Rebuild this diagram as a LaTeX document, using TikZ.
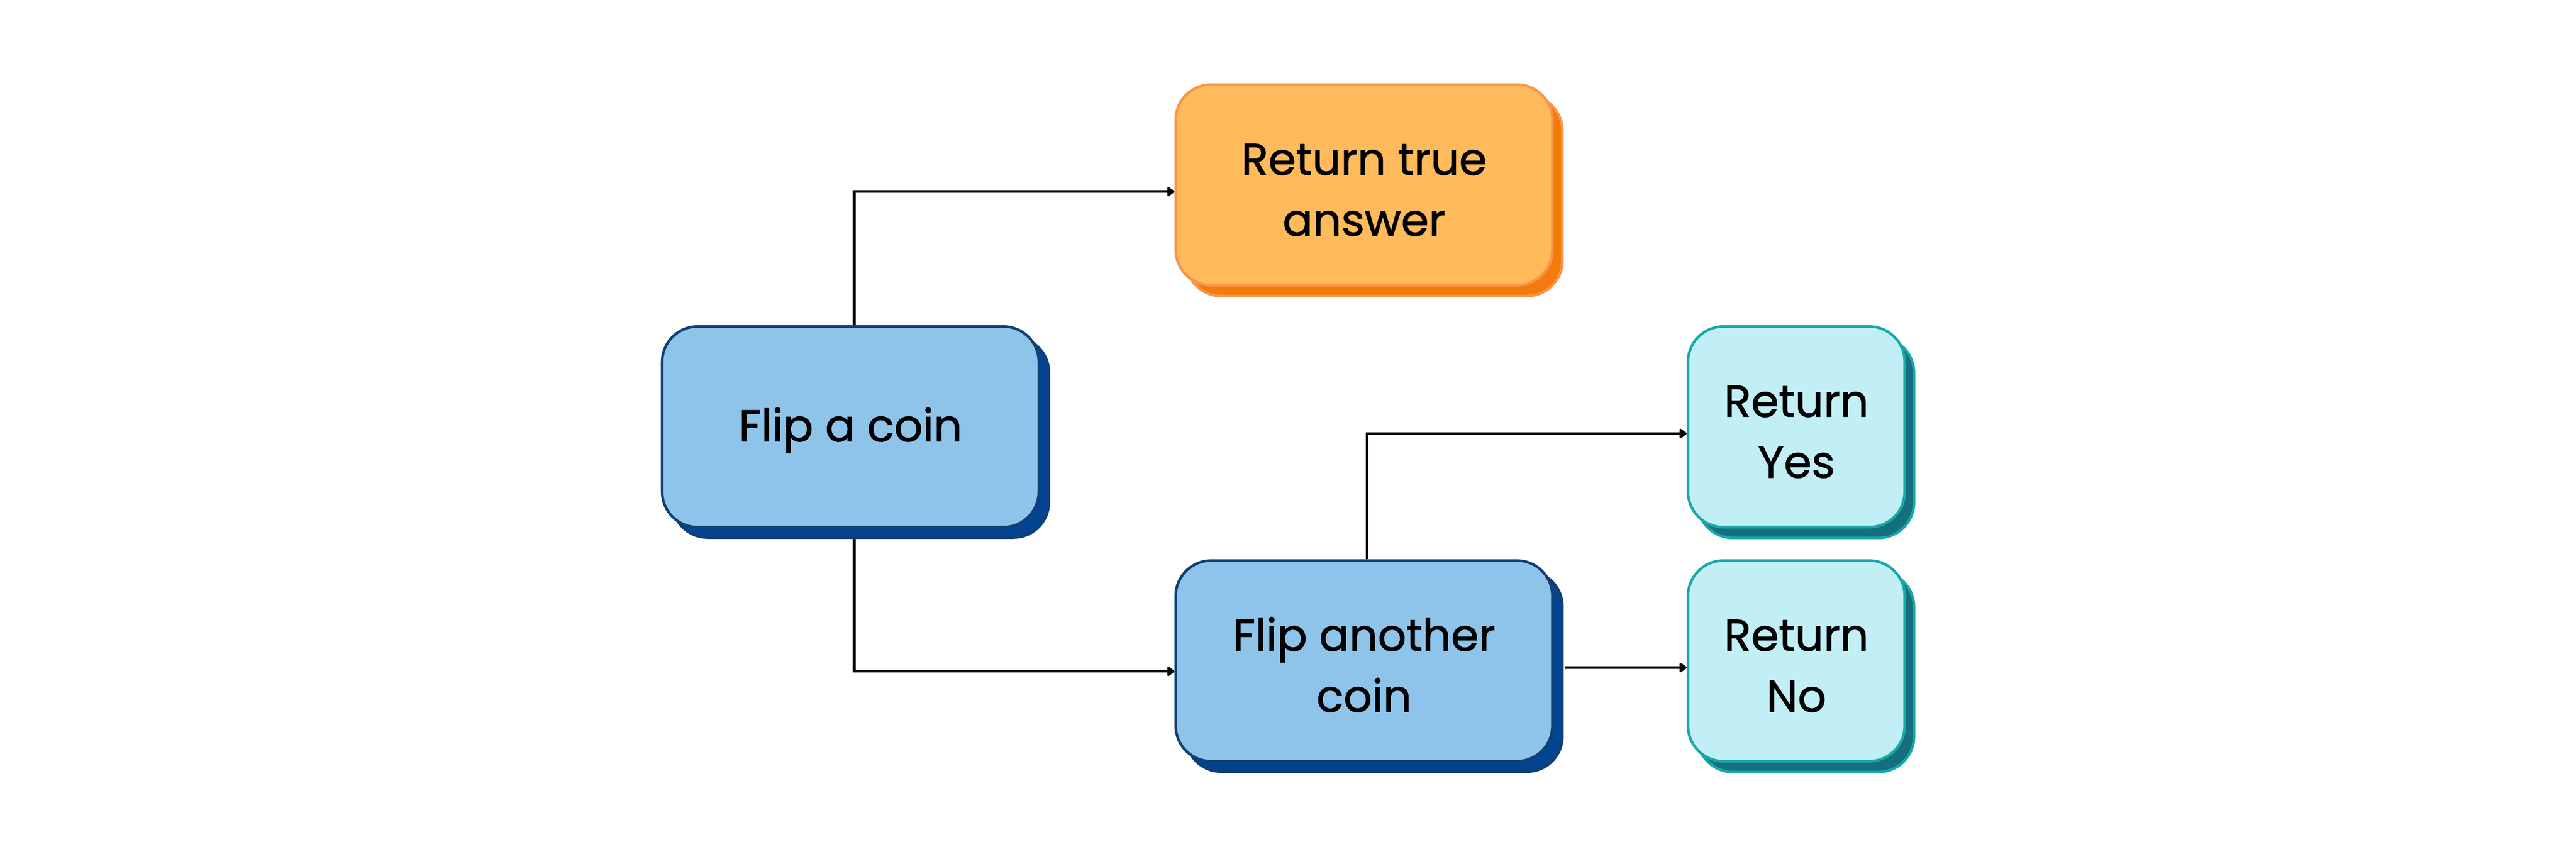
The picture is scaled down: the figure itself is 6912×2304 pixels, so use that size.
\documentclass[tikz,border=0pt]{standalone}
\usepackage{fontspec}
\setmainfont{Poppins}[FakeBold=1.2]
\usetikzlibrary{arrows.meta,shadows,backgrounds}
\definecolor{bluefill}{HTML}{8EC4EA}
\definecolor{blueborder}{HTML}{0F3F73}
\definecolor{blueshadow}{HTML}{024490}
\definecolor{orangefill}{HTML}{FEBA5B}
\definecolor{orangeborder}{HTML}{F99549}
\definecolor{orangeshadow}{HTML}{F37B0D}
\definecolor{cyanfill}{HTML}{C2EFF5}
\definecolor{cyanborder}{HTML}{16A9A8}
\definecolor{cyanshadow}{HTML}{156F7E}
\newcommand{\twolines}[2]{\raisebox{-0.22cm}[\height][\depth]{\begin{tabular}{@{}c@{}}#1\\#2\end{tabular}}}
\newcommand{\oneline}[1]{\raisebox{-0.09cm}[\height][\depth]{#1}}
\begin{document}
\begin{tikzpicture}[x=0.01cm,y=-0.01cm,
  box/.style={rounded corners=0.95cm, line width=0.07cm, align=center, inner sep=0pt,
    minimum height=5.38cm, font=\fontsize{34}{46.5}\selectfont},
  bluebox/.style={box, fill=bluefill, draw=blueborder, minimum width=10.1cm,
    copy shadow={shadow xshift=0.27cm, shadow yshift=-0.28cm, fill=blueshadow, draw=blueborder, line width=0.07cm}},
  orangebox/.style={box, fill=orangefill, draw=orangeborder, minimum width=10.1cm,
    copy shadow={shadow xshift=0.27cm, shadow yshift=-0.29cm, fill=orangeshadow, draw=orangeborder, line width=0.07cm}},
  cyanbox/.style={box, fill=cyanfill, draw=cyanborder, minimum width=5.81cm,
    copy shadow={shadow xshift=0.25cm, shadow yshift=-0.29cm, fill=cyanshadow, draw=cyanborder, line width=0.07cm}},
  conn/.style={line width=0.07cm, -{Triangle[length=0.21cm,width=0.29cm,round]}}]
\useasboundingbox (0,0) rectangle (6912,2304);
\node[bluebox] (coin) at (2282,1145) {\oneline{Flip a coin}};
\node[orangebox] (true) at (3660,496) {\twolines{Return true}{answer}};
\node[bluebox] (another) at (3660,1773) {\twolines{Flip another}{coin}};
\node[cyanbox] (yes) at (4820,1145) {\twolines{Return}{Yes}};
\node[cyanbox] (no) at (4820,1773) {\twolines{Return}{No}};
\begin{scope}[on background layer]
\draw[conn] ([xshift=0.1cm]coin.north) |- ([yshift=-0.18cm]true.west);
\draw[conn] ([xshift=0.1cm]coin.south) |- ([yshift=-0.28cm]another.west);
\draw[conn] ([xshift=0.08cm]another.north) |- ([yshift=-0.18cm]yes.west);
\draw[conn] ([xshift=0.29cm,yshift=-0.18cm]another.east) -- ([yshift=-0.18cm]no.west);
\end{scope}
\end{tikzpicture}
\end{document}
